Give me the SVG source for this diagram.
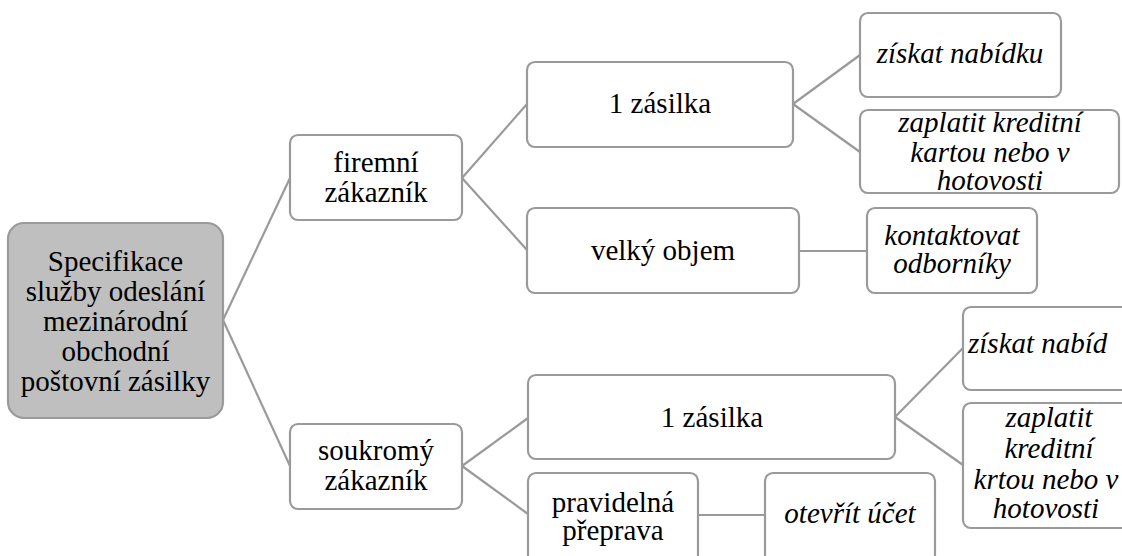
<svg xmlns="http://www.w3.org/2000/svg" width="1122" height="556" viewBox="0 0 1122 556">
  <style>
    .box { fill: #ffffff; stroke: #9a9a9a; stroke-width: 2.2; }
    .root { fill: #bfbfbf; stroke: #9a9a9a; stroke-width: 2.2; }
    .links line { stroke: #9a9a9a; stroke-width: 2.2; }
  </style>
  <rect width="1122" height="556" fill="#ffffff"/>

  <!-- connectors -->
  <g class="links">
    <line x1="223" y1="320" x2="290" y2="178"/>
    <line x1="223" y1="320" x2="290" y2="466"/>
    <line x1="462" y1="178" x2="527" y2="104"/>
    <line x1="462" y1="178" x2="527" y2="250"/>
    <line x1="793" y1="104" x2="860" y2="55"/>
    <line x1="793" y1="104" x2="860" y2="152"/>
    <line x1="799" y1="251" x2="867" y2="251"/>
    <line x1="462" y1="466" x2="528" y2="418"/>
    <line x1="462" y1="466" x2="528" y2="514"/>
    <line x1="698" y1="515" x2="765" y2="515"/>
    <line x1="895" y1="417" x2="963" y2="348"/>
    <line x1="895" y1="417" x2="963" y2="465"/>
  </g>

  <g id="root">
    <rect class="root" x="8" y="223" width="215" height="195" rx="16"/>
    <text x="115.5" y="271" font-family="Liberation Serif" font-size="29" text-anchor="middle">Specifikace</text>
    <text x="115.5" y="301" font-family="Liberation Serif" font-size="29" text-anchor="middle">služby odeslání</text>
    <text x="115.5" y="331" font-family="Liberation Serif" font-size="29" text-anchor="middle">mezinárodní</text>
    <text x="115.5" y="361" font-family="Liberation Serif" font-size="29" text-anchor="middle">obchodní</text>
    <text x="115.5" y="391" font-family="Liberation Serif" font-size="29" text-anchor="middle">poštovní zásilky</text>
  </g>

  <g id="firemni">
    <rect class="box" x="290" y="135" width="172" height="85" rx="8"/>
    <text x="376" y="172" font-family="Liberation Serif" font-size="29" text-anchor="middle">firemní</text>
    <text x="376" y="202" font-family="Liberation Serif" font-size="29" text-anchor="middle">zákazník</text>
  </g>

  <g id="soukromy">
    <rect class="box" x="290" y="424" width="172" height="85" rx="8"/>
    <text x="376" y="460" font-family="Liberation Serif" font-size="29" text-anchor="middle">soukromý</text>
    <text x="376" y="490" font-family="Liberation Serif" font-size="29" text-anchor="middle">zákazník</text>
  </g>

  <g id="zasilka-firma">
    <rect class="box" x="527" y="62" width="266" height="85" rx="8"/>
    <text x="660" y="113" font-family="Liberation Serif" font-size="29" text-anchor="middle">1 zásilka</text>
  </g>

  <g id="velky-objem">
    <rect class="box" x="527" y="208" width="272" height="85" rx="8"/>
    <text x="663" y="260" font-family="Liberation Serif" font-size="29" text-anchor="middle">velký objem</text>
  </g>

  <g id="ziskat-firma">
    <rect class="box" x="860" y="13" width="201" height="84" rx="8"/>
    <text x="960" y="63" font-family="Liberation Serif" font-size="29" font-style="italic" text-anchor="middle">získat nabídku</text>
  </g>

  <g id="zaplatit-firma">
    <rect class="box" x="860" y="110" width="259" height="83" rx="8"/>
    <text x="990" y="132" font-family="Liberation Serif" font-size="29" font-style="italic" text-anchor="middle">zaplatit kreditní</text>
    <text x="990" y="162" font-family="Liberation Serif" font-size="29" font-style="italic" text-anchor="middle">kartou nebo v</text>
    <text x="990" y="190" font-family="Liberation Serif" font-size="29" font-style="italic" text-anchor="middle">hotovosti</text>
  </g>

  <g id="kontaktovat">
    <rect class="box" x="867" y="208" width="170" height="85" rx="8"/>
    <text x="952" y="245" font-family="Liberation Serif" font-size="29" font-style="italic" text-anchor="middle">kontaktovat</text>
    <text x="952" y="273" font-family="Liberation Serif" font-size="29" font-style="italic" text-anchor="middle">odborníky</text>
  </g>

  <g id="zasilka-soukromy">
    <rect class="box" x="528" y="375" width="367" height="84" rx="8"/>
    <text x="712" y="427" font-family="Liberation Serif" font-size="29" text-anchor="middle">1 zásilka</text>
  </g>

  <g id="pravidelna">
    <rect class="box" x="528" y="473" width="170" height="90" rx="8"/>
    <text x="613" y="512" font-family="Liberation Serif" font-size="29" text-anchor="middle">pravidelná</text>
    <text x="613" y="540" font-family="Liberation Serif" font-size="29" text-anchor="middle">přeprava</text>
  </g>

  <g id="otevrit">
    <rect class="box" x="765" y="473" width="170" height="90" rx="8"/>
    <text x="850" y="523" font-family="Liberation Serif" font-size="29" font-style="italic" text-anchor="middle">otevřít účet</text>
  </g>

  <g id="ziskat-soukromy">
    <rect class="box" x="963" y="307" width="175" height="83" rx="8"/>
    <text x="968" y="353" font-family="Liberation Serif" font-size="29" font-style="italic">získat nabíd</text>
  </g>

  <g id="zaplatit-soukromy">
    <rect class="box" x="963" y="403" width="172" height="125" rx="8"/>
    <text x="1049" y="427" font-family="Liberation Serif" font-size="29" font-style="italic" text-anchor="middle">zaplatit</text>
    <text x="1049" y="458" font-family="Liberation Serif" font-size="29" font-style="italic" text-anchor="middle">kreditní</text>
    <text x="1046" y="489" font-family="Liberation Serif" font-size="29" font-style="italic" text-anchor="middle">krtou nebo v</text>
    <text x="1046" y="518" font-family="Liberation Serif" font-size="29" font-style="italic" text-anchor="middle">hotovosti</text>
  </g>
</svg>
